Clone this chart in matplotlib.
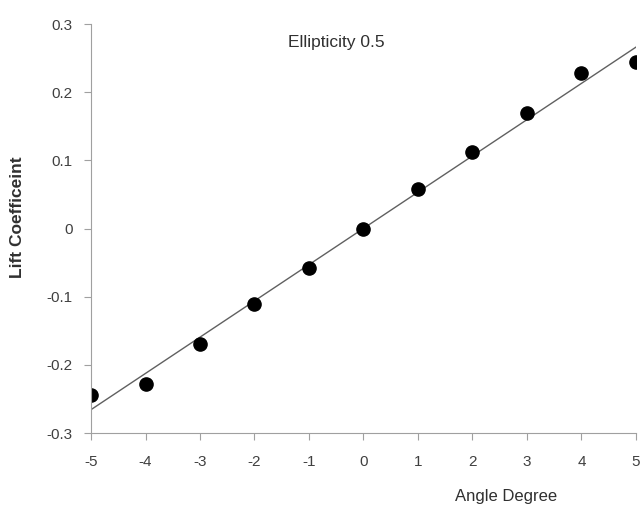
import matplotlib
matplotlib.use("Agg")
import matplotlib.pyplot as plt
import numpy as np

plt.rcParams['axes.unicode_minus'] = False
plt.rcParams['font.family'] = ['Liberation Sans', 'DejaVu Sans']

angles = [-5, -4, -3, -2, -1, 0, 1, 2, 3, 4, 5]
lift = [-0.244, -0.228, -0.169, -0.111, -0.058, 0.0, 0.058, 0.112, 0.170, 0.228, 0.245]
yticks = [-0.3, -0.2, -0.1, 0, 0.1, 0.2, 0.3]
ylabels = ["-0.3", "-0.2", "-0.1", "0", "0.1", "0.2", "0.3"]

fig = plt.figure(figsize=(6.41, 5.12), dpi=100)
ax = fig.add_axes([0.142, 0.154, 0.850, 0.799])

# linear trend line
k, b = np.polyfit(angles, lift, 1)
xs = np.array([angles[0], angles[-1]])
ax.plot(xs, k * xs + b, color='#606060', lw=1.0)
ax.plot(angles, lift, 'o', color='black', ms=9.5)

ax.set_xlim(-5, 5)
ax.set_ylim(-0.3, 0.3)
ax.set_xticks(angles)
ax.set_yticks(yticks)
ax.set_yticklabels(ylabels)

for s in ['top', 'right']:
    ax.spines[s].set_visible(False)
for s in ['left', 'bottom']:
    ax.spines[s].set_color('#a0a0a0')
ax.tick_params(colors='#a0a0a0', labelcolor='#404040', labelsize=11, length=5)
ax.tick_params(axis='x', pad=11)
ax.tick_params(axis='y', pad=8)

ax.text(0.45, 0.955, "Ellipticity 0.5", transform=ax.transAxes, ha='center', va='center',
        fontsize=12.5, color='#303030')
fig.text(0.028, 0.575, "Lift Coefficeint", rotation=90, ha='center', va='center',
         fontsize=12.5, fontweight='bold', color='#303030')
fig.text(0.79, 0.03, "Angle Degree", ha='center', va='center', fontsize=12, color='#303030')

fig.savefig("out.png", dpi=100)
